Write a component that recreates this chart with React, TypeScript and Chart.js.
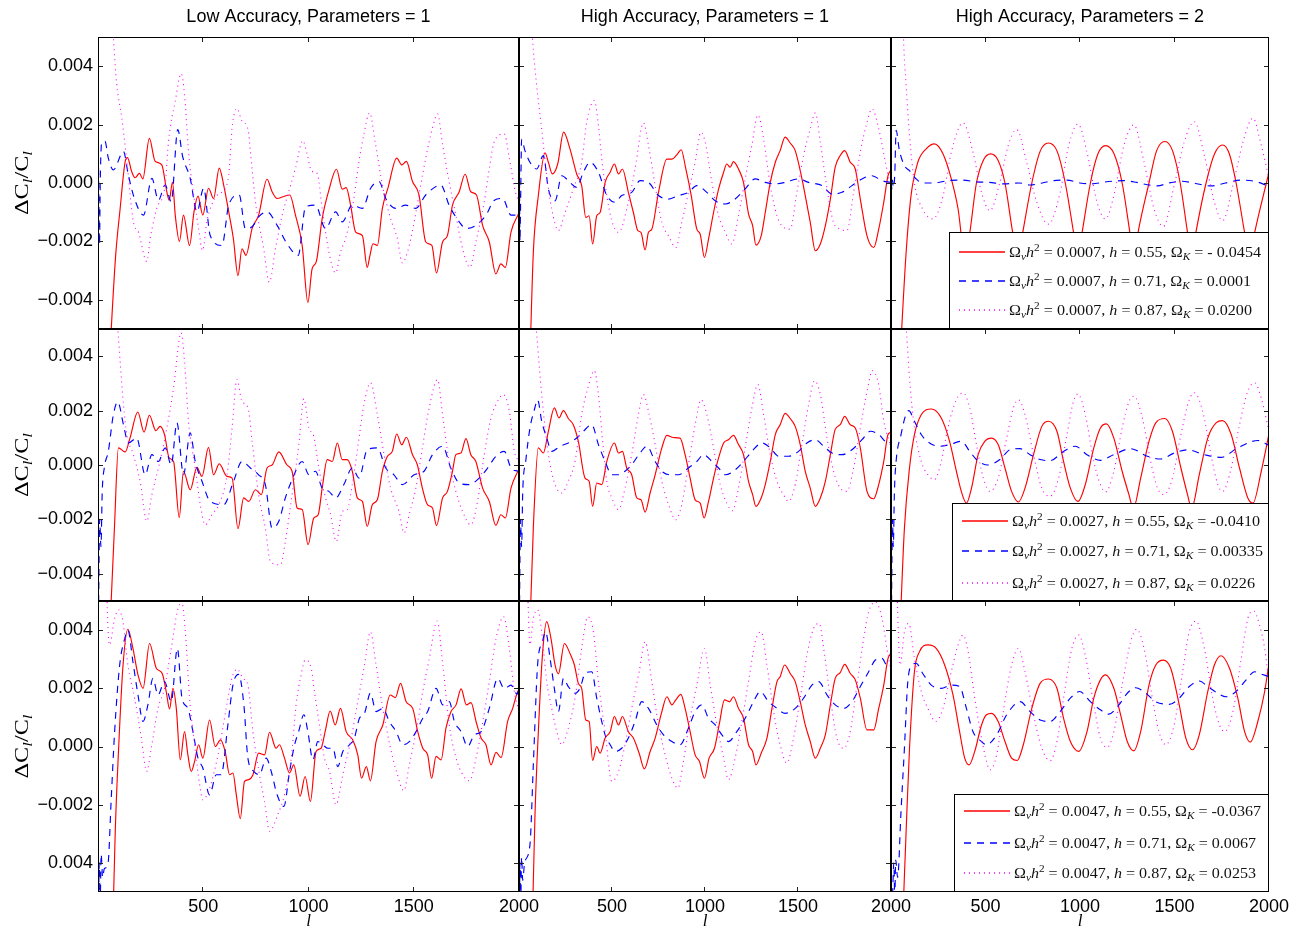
import React, { useEffect, useRef } from 'react';
import { Chart, registerables } from 'chart.js';

Chart.register(...registerables);

type P = [number, number][]; // [multipole l, ΔC_l/C_l in units of 1e-3]

// ---------------- tick labels / text ----------------
const yTickValues = [-0.004, -0.002, 0, 0.002, 0.004];
const yTickLabelsUpper = ['\u22120.004', '\u22120.002', '0.000', '0.002', '0.004'];
const yTickLabelsLower = ['0.004', '\u22120.002', '0.000', '0.002', '0.004'];
const xTickValues = [500, 1000, 1500, 2000];
const xTickLabels = ['500', '1000', '1500', '2000'];
const columnTitles = ['Low Accuracy, Parameters = 1', 'High Accuracy, Parameters = 1', 'High Accuracy, Parameters = 2'];
const legendNu = ['0.0007', '0.0027', '0.0047'];
const legendH = ['0.55', '0.71', '0.87'];
const legendOmegaK = [
  ['- 0.0454', '0.0001', '0.0200'],
  ['-0.0410', '0.00335', '0.0226'],
  ['-0.0367', '0.0067', '0.0253'],
];

// ---------------- row 1 : Ω_ν h² = 0.0007 ----------------
const r1LowRed: P = [[55,-6],[84,-2.47],[105,-0.89],[129,0.73],[140,0.87],[160,0.39],[176,0.18],[197,0.33],[213,0.14],[244,1.53],[271,0.75],[303,0.62],[327,-0.3],[338,-0.59],[354,0.02],[367,-1.1],[387,-2.0],[406,-1.1],[435,-2.14],[456,-0.99],[475,-0.45],[498,-1.1],[525,-0.18],[549,-0.53],[576,0.51],[597,-0.07],[621,-0.99],[643,-1.9],[665,-3.17],[684,-2.25],[703,-2.48],[732,-1.56],[763,-1.1],[803,0.13],[827,-0.3],[851,-0.53],[879,-0.47],[911,-0.41],[938,-1.1],[970,-2.14],[997,-4.09],[1017,-2.94],[1037,-2.69],[1065,-1.22],[1097,-0.24],[1133,0.47],[1160,-0.21],[1179,-0.16],[1200,-0.76],[1224,-1.68],[1256,-1.8],[1279,-2.89],[1292,-2.48],[1306,-2.08],[1327,-2.14],[1351,-0.87],[1379,-0.13],[1419,0.85],[1443,0.62],[1465,0.74],[1494,0.05],[1525,-0.41],[1557,-2.02],[1586,-2.14],[1608,-3.08],[1637,-2.02],[1660,-1.8],[1684,-0.76],[1716,-0.3],[1744,0.3],[1771,-0.3],[1798,-0.41],[1827,-1.45],[1859,-2.02],[1890,-3.11],[1914,-2.77],[1935,-2.89],[1962,-1.68],[1998,-1.05]];
const r1LowBlue: P = [[1,1.4],[4,-0.5],[7,-2.1],[11,0.2],[18,1.4],[33,1.43],[49,0.85],[73,0.45],[121,1.08],[144,0.28],[173,-0.53],[216,-1.1],[256,0.16],[287,-0.59],[319,-0.07],[348,-0.64],[379,1.83],[402,0.91],[438,0.16],[470,-0.99],[502,-0.18],[533,-1.8],[589,-2.14],[621,-0.76],[671,-0.41],[700,-1.56],[732,-1.5],[763,-1.16],[803,-0.99],[851,-1.45],[898,-2.08],[951,-2.48],[986,-0.82],[1033,-0.76],[1081,-1.56],[1129,-0.99],[1160,-1.33],[1208,-0.76],[1256,-0.87],[1295,-0.18],[1335,0.05],[1367,-0.53],[1414,-0.87],[1462,-0.76],[1510,-0.87],[1557,-0.41],[1629,-0.07],[1668,-0.76],[1716,-1.33],[1748,-1.56],[1795,-1.45],[1843,-1.1],[1883,-0.59],[1922,-0.53],[1962,-1.1],[1994,-1.1]];
const r1LowMag: P = [[50,8],[73,5.0],[89,3.38],[113,2.23],[137,0.74],[168,-1.33],[192,-1.68],[232,-2.69],[248,-1.9],[279,-0.87],[319,-0.07],[335,1.43],[367,2.8],[395,3.75],[411,3.03],[430,1.08],[459,-0.64],[478,-1.56],[497,-2.31],[517,-1.33],[557,-0.5],[589,-0.3],[621,0.28],[637,1.89],[660,2.55],[684,2.12],[713,1.83],[724,1.08],[748,-0.64],[787,-2.25],[814,-3.4],[843,-2.25],[875,-1.1],[906,-0.3],[938,0.5],[973,1.45],[994,0.97],[1014,0.41],[1041,0.33],[1065,-0.87],[1097,-2.37],[1129,-3.08],[1152,-2.37],[1176,-1.9],[1208,-0.87],[1240,0.74],[1263,1.66],[1290,2.4],[1319,1.31],[1351,-0.07],[1390,-1.22],[1422,-1.9],[1446,-2.74],[1470,-2.37],[1502,-1.33],[1533,-0.07],[1557,0.85],[1589,1.89],[1613,2.37],[1637,1.31],[1668,0.05],[1700,-1.1],[1732,-2.25],[1767,-2.89],[1795,-2.02],[1835,-0.64],[1859,0.5],[1883,1.43],[1930,1.68],[1954,0.85],[1986,-0.4],[2000,-0.6]];

const r1HighP1Red: P = [[59,-6],[77,-2.38],[104,-0.43],[140,1.03],[158,0.71],[179,0.31],[208,0.65],[240,1.74],[274,1.17],[310,0.31],[337,-0.09],[359,-1.18],[377,-1.12],[396,-2.09],[418,-1.12],[436,-1.01],[463,0.02],[490,0.37],[513,0.65],[535,0.31],[556,0.48],[588,-0.32],[615,-1.01],[639,-1.63],[656,-1.69],[678,-2.29],[696,-1.69],[714,-1.58],[750,-0.32],[795,0.82],[822,0.82],[848,0.96],[872,1.14],[897,0.48],[926,-0.43],[956,-1.58],[974,-1.75],[997,-2.55],[1019,-1.92],[1046,-1.01],[1073,-0.21],[1100,0.37],[1117,0.65],[1135,0.54],[1153,0.73],[1180,0.48],[1207,0.02],[1234,-1.06],[1256,-1.46],[1274,-2.13],[1302,-1.81],[1324,-1.01],[1351,0.02],[1378,0.71],[1404,1.11],[1431,1.57],[1458,1.37],[1485,1.11],[1512,0.42],[1539,-0.43],[1566,-1.35],[1593,-2.32],[1620,-2.09],[1647,-1.46],[1674,-0.55],[1700,0.54],[1727,0.94],[1751,1.11],[1781,0.71],[1808,0.48],[1835,-0.55],[1871,-1.81],[1907,-2.21],[1934,-1.58],[1961,-0.66],[1984,0.25],[2000,0.45]];
const r1HighP1Blue: P = [[2,1.4],[5,-2.0],[9,-0.5],[14,1.5],[32,1.11],[59,0.71],[95,0.48],[131,0.94],[158,-0.21],[194,-0.61],[230,0.25],[274,0.02],[310,-0.15],[346,0.37],[382,0.71],[427,0.37],[472,-0.43],[517,-0.66],[552,-0.43],[606,-0.32],[651,0.08],[696,0.02],[750,-0.43],[804,-0.55],[857,-0.43],[911,-0.32],[956,-0.09],[1010,-0.32],[1055,-0.61],[1109,-0.72],[1162,-0.55],[1216,-0.2],[1270,0.14],[1324,0.02],[1378,-0.03],[1431,0.02],[1503,0.14],[1557,0.02],[1629,-0.09],[1683,-0.38],[1736,-0.32],[1790,-0.09],[1844,0.14],[1898,0.25],[1952,0.08],[1996,0.02]];
const r1HighP1Mag: P = [[55,7],[72,5.0],[95,3.34],[122,1.85],[149,0.25],[176,-0.89],[212,-1.63],[248,-1.01],[292,-0.2],[337,0.71],[364,2.08],[405,2.82],[427,1.97],[445,0.82],[472,-0.43],[499,-1.29],[535,-1.69],[588,-0.66],[624,0.48],[669,2.06],[696,1.29],[732,-0.09],[768,-1.35],[804,-1.81],[843,-2.21],[875,-1.35],[911,-0.32],[947,0.71],[978,1.74],[1001,1.4],[1037,0.02],[1073,-1.12],[1109,-1.69],[1144,-2.09],[1180,-1.12],[1216,0.14],[1252,1.29],[1284,2.33],[1315,1.51],[1351,-0.09],[1387,-1.12],[1413,-1.46],[1458,-1.58],[1494,-0.32],[1530,0.94],[1566,1.86],[1593,2.4],[1620,1.4],[1656,-0.2],[1691,-1.35],[1727,-1.58],[1763,-1.63],[1799,-0.32],[1835,1.06],[1871,2.08],[1898,2.54],[1934,1.86],[1970,0.71],[1996,-0.09]];

const r1HighP2Red: P = [[48,-6],[80,-2.38],[106,-0.43],[142,0.71],[186,1.17],[230,1.34],[275,1.0],[319,0.14],[355,-0.89],[392,-2.6],[417,-1.7],[452,0],[490,0.8],[527,1.0],[565,0.8],[603,0],[644,-1.7],[672,-2.6],[697,-1.7],[745,0],[790,1.1],[833,1.37],[878,1.1],[922,0],[966,-1.7],[988,-2.6],[1011,-1.7],[1055,0],[1095,1.0],[1135,1.28],[1180,1.0],[1223,0],[1264,-1.7],[1285,-2.6],[1307,-1.7],[1365,0],[1405,1.1],[1449,1.42],[1490,1.1],[1530,0],[1569,-1.7],[1590,-2.6],[1613,-1.7],[1667,0],[1712,1.0],[1755,1.3],[1790,1.0],[1826,0],[1871,-1.7],[1897,-2.6],[1924,-1.7],[2000,0.37]];
const r1HighP2Blue: P = [[2,0],[4,-0.2],[8,0.1],[12,-0.15],[20,0.3],[27,1.8],[44,1.13],[71,0.6],[98,0.42],[133,0.14],[168,0],[230,0.0],[300,0.08],[381,0.1],[450,0.04],[520,0.02],[600,-0.03],[680,0.0],[736,-0.07],[800,0.0],[860,0.08],[931,0.1],[1000,0.0],[1060,-0.03],[1150,0.05],[1230,0.08],[1300,0.02],[1350,-0.05],[1410,-0.1],[1470,0.0],[1540,0.06],[1600,0.0],[1693,-0.1],[1770,0.0],[1853,0.1],[1930,0.05],[1995,-0.1]];
const r1HighP2Mag: P = [[55,8],[66,5.0],[80,3.34],[98,1.62],[124,0],[168,-0.9],[222,-1.23],[275,-0.46],[319,1.05],[381,2.06],[434,1.05],[479,-0.32],[523,-0.95],[576,0.02],[620,1.28],[665,1.83],[718,0.71],[771,-0.66],[833,-1.41],[895,-0.32],[940,1.28],[989,2.02],[1037,1.05],[1090,-0.66],[1135,-1.23],[1179,-0.43],[1232,1.28],[1285,1.99],[1339,0.71],[1392,-0.89],[1441,-1.49],[1498,-0.09],[1551,1.4],[1605,2.1],[1658,0.94],[1711,-0.66],[1755,-1.29],[1809,-0.09],[1862,1.4],[1915,2.22],[1959,1.29],[2000,0.14]];

// ---------------- row 2 : Ω_ν h² = 0.0027 ----------------
const r2LowRed: P = [[57,-6],[78,-2.32],[97,0.63],[129,0.48],[152,0.99],[189,1.95],[219,1.21],[244,1.83],[275,1.26],[295,1.42],[316,1.12],[338,0.26],[359,0.13],[386,-1.93],[406,-0.23],[438,-0.91],[470,-0.09],[494,-0.42],[525,0.65],[549,-0.36],[576,0.04],[613,-0.42],[637,-0.48],[665,-2.34],[692,-1.21],[716,-1.34],[748,-0.91],[776,-1.09],[803,-0.11],[827,0],[859,0.48],[898,0],[922,-0.23],[946,-1.58],[970,-1.64],[998,-2.93],[1025,-1.95],[1046,-1.83],[1065,-0.85],[1089,0.2],[1113,0.13],[1137,0.81],[1160,0.2],[1184,0.2],[1208,-0.23],[1232,-1.21],[1256,-1.34],[1279,-2.26],[1303,-1.46],[1327,-1.28],[1351,-0.23],[1375,0.32],[1398,0.5],[1419,1.14],[1443,0.74],[1465,1.02],[1494,0.38],[1517,0.01],[1541,-0.85],[1565,-1.46],[1589,-1.58],[1608,-2.23],[1637,-1.21],[1660,-0.97],[1684,-0.23],[1700,0.38],[1724,0.44],[1748,0.97],[1771,0.38],[1795,0.13],[1827,-0.85],[1859,-1.34],[1890,-2.22],[1914,-1.83],[1935,-1.95],[1962,-0.85],[1998,-0.17]];
const r2LowBlue: P = [[2,-6],[5,-3.5],[8,-2.0],[14,-3.0],[20,-1.0],[30,-0.1],[49,0.5],[73,1.85],[94,2.32],[121,1.48],[144,0.81],[184,0.99],[224,-0.36],[256,0.38],[287,0.13],[319,0.63],[348,0.01],[375,1.55],[406,-0.36],[438,1.18],[462,0.13],[494,-0.6],[533,-1.34],[597,-1.46],[644,-0.6],[684,0.13],[724,-0.11],[763,-0.36],[795,-0.72],[827,-2.32],[859,-2.07],[890,-1.21],[922,-0.54],[970,0.13],[1002,-0.36],[1033,-0.23],[1065,-0.85],[1097,-0.97],[1129,-1.21],[1168,-0.72],[1208,-0.11],[1240,-0.48],[1279,0.56],[1327,0.63],[1367,-0.11],[1406,-0.36],[1446,-0.72],[1502,-0.36],[1549,-0.23],[1589,0.38],[1637,0.69],[1676,-0.11],[1716,-0.66],[1763,-0.72],[1811,-0.48],[1851,-0.11],[1890,0.32],[1930,0.5],[1962,-0.11],[1994,-0.23]];
const r2LowMag: P = [[80,6],[94,5.0],[105,3.82],[121,2.22],[137,1.12],[168,0.38],[200,-0.6],[232,-2.07],[256,-1.09],[287,-0.11],[327,1.36],[359,2.83],[395,4.86],[411,3.82],[430,1.6],[462,-0.11],[486,-1.46],[510,-2.2],[541,-1.83],[581,-1.34],[613,-0.36],[637,1.36],[660,3.14],[684,2.34],[713,2.09],[732,0.87],[763,-1.09],[795,-2.32],[819,-3.55],[867,-3.67],[890,-2.81],[922,-1.09],[954,0.75],[978,2.44],[1002,1.36],[1025,1.06],[1049,-0.11],[1081,-1.21],[1105,-1.83],[1132,-2.81],[1160,-1.71],[1184,-1.64],[1208,-0.72],[1240,0.99],[1263,2.21],[1295,3.02],[1327,1.85],[1359,0.38],[1390,-0.85],[1430,-1.71],[1454,-2.5],[1478,-1.83],[1510,-0.85],[1541,0.63],[1573,2.09],[1613,3.14],[1637,1.85],[1668,0.13],[1700,-0.97],[1732,-1.71],[1771,-2.2],[1803,-1.34],[1835,0.38],[1867,1.73],[1890,2.21],[1925,2.59],[1954,1.98],[1978,0.5],[2000,0.13]];

const r2HighP1Red: P = [[59,-6],[77,-2.32],[104,0.63],[131,0.44],[158,1.24],[190,2.1],[215,1.73],[239,2.0],[265,1.71],[292,1.48],[319,0.87],[355,-0.48],[377,-0.6],[396,-1.52],[418,-0.66],[445,-0.72],[472,0.13],[513,0.81],[535,0.44],[556,0.5],[579,-0.11],[606,-0.36],[633,-1.21],[656,-1.28],[678,-1.73],[705,-1.03],[732,-0.36],[768,0.63],[795,1.09],[830,1.01],[866,0.99],[893,0.38],[920,-0.48],[947,-1.28],[974,-1.4],[995,-1.95],[1019,-1.34],[1046,-0.48],[1073,0.26],[1100,0.81],[1126,0.93],[1153,1.09],[1180,0.75],[1207,0.38],[1234,-0.6],[1256,-1.09],[1274,-1.52],[1302,-1.21],[1324,-0.72],[1351,0.13],[1378,1.12],[1404,1.48],[1431,1.9],[1458,1.71],[1485,1.42],[1512,0.75],[1539,-0.23],[1566,-0.85],[1593,-1.52],[1620,-1.21],[1647,-0.6],[1674,0.38],[1700,1.31],[1727,1.48],[1751,1.79],[1781,1.48],[1808,1.36],[1835,0.63],[1871,-0.97],[1907,-1.24],[1934,-0.72],[1961,0.13],[1984,1.12],[2000,1.2]];
const r2HighP1Blue: P = [[2,-6],[5,-3.5],[8,-2.0],[14,-3.0],[20,-1.0],[36,0.13],[59,1.36],[83,2.04],[100,2.4],[122,1.61],[149,1.0],[176,0.5],[221,0.69],[265,0.81],[310,0.99],[346,1.24],[391,1.48],[427,0.75],[463,0.13],[499,-0.36],[535,-0.36],[570,-0.23],[606,0.01],[651,0.44],[687,0.69],[732,0.13],[768,-0.23],[813,-0.36],[857,-0.36],[911,-0.11],[956,0.13],[992,0.38],[1037,0.13],[1073,-0.11],[1109,-0.36],[1153,-0.23],[1207,0.13],[1252,0.5],[1306,0.81],[1351,0.63],[1396,0.32],[1449,0.32],[1503,0.5],[1548,0.81],[1593,0.93],[1638,0.69],[1683,0.44],[1736,0.38],[1790,0.56],[1844,0.93],[1889,1.24],[1934,1.12],[1978,0.81],[2000,0.75]];
const r2HighP1Mag: P = [[80,6],[95,4.8],[122,2.59],[158,0.38],[194,-0.72],[230,-1.03],[265,-0.6],[301,0.13],[337,1.85],[373,2.9],[405,3.47],[427,2.59],[448,0.99],[472,-0.6],[499,-1.21],[535,-1.64],[570,-0.85],[606,0.38],[642,1.85],[669,2.59],[696,1.98],[732,0.75],[768,-0.6],[804,-1.46],[843,-2.01],[875,-1.46],[911,0.01],[947,1.48],[979,2.4],[1010,1.85],[1046,0.63],[1082,-0.72],[1117,-1.4],[1148,-1.68],[1180,-0.85],[1216,0.63],[1252,2.09],[1284,2.96],[1315,1.85],[1351,0.38],[1387,-0.6],[1422,-1.09],[1449,-1.34],[1485,-0.72],[1521,0.75],[1557,2.22],[1589,3.1],[1620,2.59],[1656,0.99],[1691,-0.23],[1727,-0.85],[1763,-0.97],[1799,-0.11],[1835,1.36],[1871,2.71],[1901,3.47],[1934,2.94],[1961,1.61],[1996,0.75]];

const r2HighP2Red: P = [[48,-6],[71,-2.32],[98,-0.1],[124,1.12],[160,1.85],[213,2.06],[266,1.73],[310,0.87],[346,-0.23],[372,-0.97],[399,-1.4],[426,-0.85],[461,0.38],[496,0.87],[532,0.99],[567,0.75],[603,-0.11],[638,-0.97],[674,-1.36],[709,-0.85],[754,0.38],[798,1.42],[833,1.61],[878,1.24],[913,0.13],[949,-0.85],[989,-1.34],[1028,-0.72],[1073,0.63],[1108,1.36],[1140,1.51],[1179,0.99],[1223,-0.23],[1259,-1.09],[1282,-1.6],[1321,-0.48],[1365,0.87],[1401,1.55],[1449,1.71],[1489,1.24],[1534,-0.11],[1569,-1.09],[1590,-1.6],[1631,-0.36],[1676,0.99],[1720,1.55],[1755,1.63],[1800,1.12],[1844,-0.11],[1888,-1.21],[1915,-1.4],[1959,-0.23],[2000,1.14]];
const r2HighP2Blue: P = [[2,-6],[5,-3.5],[8,-2.0],[12,-3.0],[18,-1.0],[27,0.13],[53,1.12],[76,1.79],[94,2.0],[124,1.61],[160,1.12],[204,0.81],[257,0.69],[310,0.75],[372,0.87],[417,0.5],[452,0.2],[514,0.0],[576,0.2],[629,0.56],[683,0.6],[736,0.38],[789,0.2],[842,0.16],[913,0.5],[975,0.69],[1037,0.38],[1108,0.17],[1179,0.38],[1268,0.6],[1356,0.32],[1427,0.22],[1498,0.44],[1569,0.56],[1658,0.38],[1746,0.28],[1835,0.63],[1941,0.9],[2000,0.72]];
const r2HighP2Mag: P = [[70,6],[83,4.8],[98,3.2],[124,1.37],[160,0.13],[195,-0.36],[230,-0.54],[266,0.13],[301,1.36],[346,2.4],[381,2.65],[417,2.09],[452,0.75],[488,-0.48],[523,-0.97],[567,-0.48],[612,0.99],[647,2.09],[674,2.4],[709,1.85],[754,0.38],[798,-0.85],[842,-1.15],[887,-0.48],[931,1.12],[966,2.35],[989,2.61],[1028,1.85],[1073,0.13],[1108,-0.72],[1135,-0.99],[1179,-0.23],[1223,1.36],[1259,2.33],[1285,2.53],[1330,1.73],[1374,0.13],[1410,-0.85],[1445,-1.09],[1489,-0.48],[1534,1.12],[1578,2.4],[1605,2.65],[1649,1.98],[1693,0.38],[1729,-0.72],[1755,-0.97],[1800,-0.11],[1844,1.48],[1888,2.71],[1924,3.02],[1959,2.46],[2000,1.24]];

// ---------------- row 3 : Ω_ν h² = 0.0047 ----------------
const r3LowRed: P = [[71,-6],[82,-2.91],[98,-0.06],[119,2.8],[142,4.03],[166,3.37],[190,2.46],[214,2.0],[245,3.54],[277,2.69],[305,2.51],[324,1.89],[340,1.29],[356,2.0],[372,1.31],[391,-0.46],[411,0.51],[427,-0.29],[443,-0.86],[459,-0.51],[478,0.06],[498,-0.4],[530,0.91],[557,0],[582,0.23],[604,-0.17],[625,-0.97],[641,-0.91],[657,-1.66],[676,-2.48],[696,-1.2],[715,-1.14],[736,-0.97],[763,-0.23],[791,-0.29],[815,0.49],[846,-0.06],[862,0.06],[886,-0.4],[910,-0.91],[930,-0.63],[960,-1.71],[984,-1.03],[1009,-1.89],[1036,-0.17],[1060,-0.06],[1079,0.51],[1103,1.22],[1127,0.74],[1152,1.31],[1179,0.51],[1210,0.23],[1234,-0.29],[1252,-1.09],[1275,-0.69],[1294,-1.18],[1321,0.17],[1353,0.74],[1388,1.77],[1413,1.68],[1437,2.17],[1464,1.54],[1495,1.31],[1519,0.51],[1543,-0.06],[1566,-0.29],[1585,-1.09],[1606,-0.34],[1630,-0.46],[1653,0.63],[1677,1.2],[1701,1.43],[1725,1.98],[1750,1.43],[1772,1.51],[1796,0.86],[1820,0.29],[1843,0.06],[1867,-0.63],[1891,-0.2],[1915,-0.38],[1946,0.86],[1970,1.31],[1991,1.83],[2000,1.95]];
const r3LowBlue: P = [[2,-6],[6,-4.0],[10,-5.5],[15,-3.7],[22,-4.5],[30,-4.2],[47,-4.06],[63,-1.77],[79,0.51],[103,2.8],[127,3.71],[142,4.0],[166,2.91],[190,1.77],[214,0.86],[237,1.43],[261,2.34],[285,1.77],[316,2.23],[348,1.54],[377,3.37],[399,1.66],[427,1.31],[451,0.51],[475,-0.4],[498,-0.74],[530,-1.66],[562,-0.97],[585,-0.97],[617,0.74],[641,2.11],[668,2.48],[693,1.43],[712,-0.4],[741,-0.86],[767,-0.97],[799,-0.4],[823,-0.86],[851,-1.66],[883,-2.06],[910,-0.86],[934,0.06],[953,0.51],[978,1.09],[997,0.51],[1021,-0.46],[1044,0.17],[1068,0.06],[1092,-0.06],[1116,-0.06],[1139,-0.69],[1163,-0.17],[1195,0.06],[1218,0.29],[1242,0.97],[1266,1.14],[1294,1.83],[1321,1.2],[1353,1.31],[1384,0.86],[1416,0.51],[1448,0.06],[1479,0.17],[1511,0.51],[1543,0.97],[1566,1.2],[1606,2.0],[1638,1.43],[1669,1.54],[1693,0.86],[1725,0.51],[1756,0],[1788,0.4],[1820,0.51],[1859,1.31],[1899,2.34],[1930,1.99],[1962,2.11],[1991,1.8],[2000,2.0]];
const r3LowMag: P = [[40,6],[44,4.7],[55,3.49],[79,4.4],[98,4.7],[119,4.26],[142,2.8],[174,1.66],[206,0.29],[231,-0.86],[253,-0.06],[285,1.31],[316,2.0],[348,3.37],[380,4.74],[399,4.91],[415,3.94],[435,1.66],[459,0.06],[483,-1.31],[498,-1.83],[530,-1.43],[570,-0.29],[609,1.31],[636,2.34],[661,2.66],[689,2.34],[712,2.11],[736,0.51],[767,-0.97],[791,-1.89],[815,-2.91],[854,-2.34],[886,-1.66],[918,-0.4],[941,1.43],[965,2.46],[984,2.97],[1013,2.69],[1028,1.89],[1052,0.74],[1076,-0.4],[1100,-0.86],[1131,-2.0],[1163,-0.97],[1203,0.29],[1234,1.54],[1266,2.8],[1294,3.94],[1321,2.8],[1353,1.31],[1386,0.06],[1418,-0.86],[1453,-1.52],[1479,-0.63],[1511,0.51],[1543,1.89],[1574,3.03],[1611,4.31],[1638,2.8],[1669,0.74],[1701,-0.4],[1733,-0.97],[1764,-1.18],[1796,-0.4],[1828,0.86],[1859,2.23],[1891,3.71],[1927,4.46],[1954,3.37],[1978,1.89],[2000,1.2]];

const r3HighP1Red: P = [[72,-6],[86,-2.34],[104,0.51],[126,3.14],[149,4.29],[172,3.71],[194,2.8],[212,2.5],[244,3.54],[274,3.2],[298,2.8],[319,2.17],[337,2.0],[359,0.91],[377,0.86],[396,-0.48],[418,0],[436,-0.23],[463,0.29],[490,0.51],[513,1.03],[535,0.74],[556,1.03],[588,0.51],[615,0.29],[646,-0.23],[674,-0.77],[705,-0.17],[732,0.29],[768,1.2],[795,1.71],[822,1.43],[843,1.6],[870,1.79],[893,1.31],[920,0.51],[947,-0.29],[970,-0.51],[997,-1.09],[1022,-0.4],[1051,-0.06],[1076,0.74],[1105,1.6],[1132,1.54],[1153,1.71],[1180,1.31],[1207,0.97],[1234,0.06],[1256,-0.17],[1274,-0.63],[1302,-0.23],[1333,0.29],[1360,1.31],[1387,2.23],[1404,2.4],[1428,2.8],[1458,2.51],[1485,2.23],[1512,1.54],[1539,0.74],[1566,0.17],[1593,-0.4],[1620,-0.06],[1647,0.4],[1674,1.43],[1700,2.34],[1727,2.54],[1751,2.82],[1781,2.51],[1808,2.29],[1835,1.66],[1871,0.57],[1907,0.57],[1934,1.31],[1961,2.11],[1984,3.03],[2000,3.2]];
const r3HighP1Blue: P = [[2,-6],[5,-4.0],[9,-5.5],[14,-3.8],[20,-4.6],[30,-4.0],[59,-3.37],[77,-0.63],[100,2.8],[126,3.6],[143,3.94],[167,3.03],[190,2.0],[212,1.2],[239,2.34],[265,2.06],[301,1.83],[328,2.0],[355,2.51],[391,2.57],[418,1.66],[441,0.97],[463,0.4],[490,0.06],[517,-0.17],[552,-0.06],[588,0.29],[624,0.86],[660,1.54],[696,1.31],[741,0.74],[777,0.4],[822,0.17],[866,0.06],[911,0.63],[947,1.2],[983,1.43],[1019,0.97],[1055,0.74],[1091,0.4],[1126,0.17],[1171,0.51],[1216,0.97],[1261,1.54],[1297,1.89],[1342,1.54],[1387,1.31],[1431,1.14],[1485,1.31],[1530,1.66],[1575,2.11],[1611,2.23],[1656,1.77],[1700,1.43],[1745,1.31],[1790,1.54],[1835,2.06],[1880,2.57],[1916,2.97],[1952,3.03],[1978,2.8],[2000,2.9]];
const r3HighP1Mag: P = [[44,6],[50,4.7],[59,3.5],[77,4.4],[100,4.7],[122,3.94],[149,2.23],[176,1.31],[203,0.51],[230,0.06],[265,0.63],[301,1.66],[337,3.37],[370,4.46],[400,3.94],[427,2.23],[463,0.51],[499,-1.2],[535,-0.86],[570,0.06],[606,1.31],[646,2.57],[678,3.6],[714,2.23],[750,0.74],[786,-0.29],[822,-1.09],[854,-1.43],[884,-0.51],[920,0.97],[956,2.11],[997,3.37],[1028,2.11],[1064,0.74],[1100,-0.4],[1126,-1.14],[1162,-0.4],[1198,0.86],[1234,2.23],[1270,3.6],[1302,3.94],[1333,2.8],[1369,1.2],[1404,0.06],[1440,-0.57],[1476,0.29],[1512,1.66],[1548,3.14],[1584,4.06],[1614,4.23],[1638,3.37],[1674,1.66],[1709,0.29],[1745,-0.06],[1781,0.51],[1817,2.11],[1853,3.71],[1880,4.63],[1916,4.97],[1952,4.4],[1978,3.37],[2000,2.57]];

const r3HighP2Red: P = [[62,-6],[80,-2.91],[98,-0.06],[124,2.57],[151,3.26],[195,3.49],[239,3.37],[284,2.8],[328,1.77],[363,0.51],[390,-0.4],[413,-0.63],[443,-0.17],[479,0.74],[505,1.09],[532,1.14],[567,0.86],[603,0.17],[638,-0.4],[668,-0.48],[700,0.06],[745,1.31],[789,2.17],[833,2.32],[878,2.0],[913,0.97],[949,0.17],[993,-0.17],[1037,0.51],[1073,1.66],[1108,2.29],[1135,2.46],[1179,2.0],[1215,1.09],[1250,0.17],[1285,-0.15],[1321,0.51],[1365,2.11],[1401,2.8],[1441,2.97],[1480,2.69],[1525,1.43],[1560,0.29],[1596,-0.11],[1631,0.4],[1676,1.89],[1711,2.8],[1746,3.12],[1791,2.69],[1835,1.66],[1871,0.51],[1901,0.15],[1941,0.86],[1977,1.89],[2000,2.86]];
const r3HighP2Blue: P = [[2,-6],[9,-5.0],[15,-4.0],[20,-5.2],[25,-3.9],[35,-4.5],[53,-2.23],[71,-0.06],[89,2.23],[112,2.8],[133,2.86],[168,2.51],[213,2.11],[266,2.0],[319,2.11],[363,2.06],[399,1.31],[434,0.51],[479,0.17],[505,0.06],[559,0.4],[612,1.09],[683,1.54],[736,1.2],[789,0.91],[842,0.86],[895,1.2],[949,1.66],[998,1.89],[1055,1.54],[1108,1.26],[1152,1.11],[1206,1.43],[1250,1.83],[1294,2.02],[1348,1.83],[1401,1.54],[1472,1.45],[1525,1.66],[1578,2.06],[1631,2.25],[1676,2.06],[1729,1.83],[1773,1.71],[1826,1.89],[1879,2.29],[1924,2.57],[1950,2.51],[2000,2.4]];
const r3HighP2Mag: P = [[30,6],[35,4.7],[48,2.8],[71,3.94],[94,4.23],[124,3.03],[160,1.89],[195,1.31],[236,0.86],[275,1.31],[319,2.57],[355,3.49],[381,3.83],[408,3.26],[443,1.66],[479,0.29],[505,-0.51],[523,-0.8],[559,-0.29],[594,1.2],[638,2.8],[674,3.37],[709,2.57],[754,1.09],[798,-0.06],[842,-0.49],[878,0.17],[913,1.66],[957,3.37],[993,3.83],[1028,3.14],[1073,1.43],[1108,0.29],[1144,-0.03],[1179,0.51],[1223,2.11],[1268,3.6],[1300,4.03],[1339,3.37],[1383,1.66],[1418,0.51],[1454,0.06],[1498,0.74],[1543,2.57],[1578,3.94],[1613,4.31],[1658,3.37],[1702,1.66],[1738,0.74],[1764,0.51],[1809,1.2],[1853,3.03],[1888,4.4],[1920,4.65],[1950,4.17],[1977,3.37],[2000,2.2]];

// ---------------- layout ----------------
const W = 1297, H = 926;
const colLeft = [98, 519, 891];
const colRight = [519, 891, 1269];
const rowTop = [37, 329, 601];
const rowBottom = [329, 601, 892];
const legendBox = [{ x: 949, y: 232 }, { x: 952, y: 503 }, { x: 954, y: 794 }];
const legendDy = [[20, 49, 78], [18, 48, 80], [17, 49, 79]];
const legendTextW = [[252, 242, 243], [248, 251, 243], [247, 242, 242]];

const SANS = "'Liberation Sans', Arial, Helvetica, sans-serif";
const SERIF = "'Liberation Serif', 'Times New Roman', serif";

const RED = '#ff0000', BLUE = '#0000ff', MAG = '#ff00ff';
const BLUE_DASH = [7, 6];
const MAG_DASH = [1, 4];

type Seg = { t: string; it?: boolean; sub?: boolean; sup?: boolean };

function drawRich(ctx: CanvasRenderingContext2D, segs: Seg[], x: number, y: number, size: number, targetW: number | null, align: 'left' | 'center') {
  const fontFor = (s: Seg) => `${s.it ? 'italic ' : ''}${s.sub || s.sup ? size * 0.7 : size}px ${SERIF}`;
  let total = 0;
  const ws = segs.map((s) => {
    ctx.font = fontFor(s);
    const w = ctx.measureText(s.t).width;
    total += w;
    return w;
  });
  const sx = targetW ? targetW / total : 1;
  ctx.save();
  ctx.translate(x, y);
  ctx.scale(sx, 1);
  ctx.textAlign = 'left';
  ctx.textBaseline = 'alphabetic';
  let cx = align === 'center' ? -total / 2 : 0;
  segs.forEach((s, i) => {
    ctx.font = fontFor(s);
    const dy = s.sub ? size * 0.2 : s.sup ? -size * 0.4 : 0;
    ctx.fillText(s.t, cx, dy);
    cx += ws[i];
  });
  ctx.restore();
}

interface PanelCfg { row: number; col: number; red: P; blue: P; mag: P }

const panels: PanelCfg[] = [
  { row: 0, col: 0, red: r1LowRed, blue: r1LowBlue, mag: r1LowMag },
  { row: 0, col: 1, red: r1HighP1Red, blue: r1HighP1Blue, mag: r1HighP1Mag },
  { row: 0, col: 2, red: r1HighP2Red, blue: r1HighP2Blue, mag: r1HighP2Mag },
  { row: 1, col: 0, red: r2LowRed, blue: r2LowBlue, mag: r2LowMag },
  { row: 1, col: 1, red: r2HighP1Red, blue: r2HighP1Blue, mag: r2HighP1Mag },
  { row: 1, col: 2, red: r2HighP2Red, blue: r2HighP2Blue, mag: r2HighP2Mag },
  { row: 2, col: 0, red: r3LowRed, blue: r3LowBlue, mag: r3LowMag },
  { row: 2, col: 1, red: r3HighP1Red, blue: r3HighP1Blue, mag: r3HighP1Mag },
  { row: 2, col: 2, red: r3HighP2Red, blue: r3HighP2Blue, mag: r3HighP2Mag },
];

function makeConfig(p: PanelCfg): any {
  const L = colLeft[p.col], R = colRight[p.col], T = rowTop[p.row], B = rowBottom[p.row];
  const yW = p.col === 0 ? L : 0;
  const xH = p.row === 2 ? H - B : 0;
  const yLabels = p.row === 2 ? yTickLabelsLower : yTickLabelsUpper;
  const toData = (pts: P) => pts.map(([x, v]) => ({ x, y: v / 1000 }));
  const lineBase = { pointRadius: 0, borderWidth: 1.15, fill: false, cubicInterpolationMode: 'monotone' as const };

  const deco = {
    id: 'deco' + p.row + p.col,
    afterDraw(chart: any) {
      const ctx: CanvasRenderingContext2D = chart.ctx;
      const a = chart.chartArea;
      const xs = chart.scales.x, ys = chart.scales.y;
      ctx.save();
      ctx.setLineDash([]);
      // inward tick marks on all four sides
      ctx.strokeStyle = '#222';
      ctx.lineWidth = 1;
      ctx.beginPath();
      yTickValues.forEach((v) => {
        const py = Math.round(ys.getPixelForValue(v)) + 0.5;
        ctx.moveTo(a.left, py); ctx.lineTo(a.left + 5, py);
        ctx.moveTo(a.right - 5, py); ctx.lineTo(a.right, py);
      });
      xTickValues.forEach((v) => {
        const px = Math.round(xs.getPixelForValue(v)) - 0.5;
        ctx.moveTo(px, a.bottom); ctx.lineTo(px, a.bottom - 5);
        ctx.moveTo(px, a.top); ctx.lineTo(px, a.top + 5);
      });
      ctx.stroke();

      // legend (right column)
      if (p.col === 2) {
        const bx = legendBox[p.row].x, by = legendBox[p.row].y;
        ctx.fillStyle = '#ffffff';
        ctx.fillRect(bx, by, a.right - bx, a.bottom - by);
        ctx.strokeStyle = '#000';
        ctx.lineWidth = 1;
        ctx.strokeRect(bx + 0.5, by + 0.5, a.right - bx - 1, a.bottom - by - 1);
        const colors = [RED, BLUE, MAG];
        const dashes = [[] as number[], BLUE_DASH, MAG_DASH];
        for (let i = 0; i < 3; i++) {
          const cy = by + legendDy[p.row][i];
          ctx.save();
          ctx.strokeStyle = colors[i];
          ctx.lineWidth = i === 2 ? 1.3 : 1.6;
          ctx.setLineDash(dashes[i]);
          ctx.beginPath();
          ctx.moveTo(bx + 10, cy);
          ctx.lineTo(bx + 56, cy);
          ctx.stroke();
          ctx.restore();
          ctx.fillStyle = '#111';
          const segs: Seg[] = [
            { t: '\u03A9' }, { t: '\u03BD', it: true, sub: true }, { t: 'h', it: true }, { t: '2', sup: true },
            { t: ' = ' + legendNu[p.row] + ', ' }, { t: 'h', it: true }, { t: ' = ' + legendH[i] + ', ' },
            { t: '\u03A9' }, { t: 'K', it: true, sub: true }, { t: ' = ' + legendOmegaK[p.row][i] },
          ];
          drawRich(ctx, segs, bx + 60, cy + 5, 15.5, legendTextW[p.row][i], 'left');
        }
      }

      // frame
      ctx.setLineDash([]);
      ctx.strokeStyle = '#000';
      ctx.lineWidth = 1;
      ctx.strokeRect(a.left + 0.5, a.top + 0.5, a.right - a.left - 1, a.bottom - a.top - 1);

      // column titles
      if (p.row === 0) {
        ctx.fillStyle = '#000';
        ctx.font = `18px ${SANS}`;
        ctx.textAlign = 'center';
        ctx.textBaseline = 'alphabetic';
        ctx.fillText(columnTitles[p.col], (a.left + a.right) / 2, 22);
      }
      // y-axis label
      if (p.col === 0) {
        ctx.save();
        ctx.fillStyle = '#000';
        ctx.translate(28, ys.getPixelForValue(0));
        ctx.rotate(-Math.PI / 2);
        drawRich(ctx, [{ t: '\u0394C' }, { t: 'l', it: true, sub: true }, { t: '/C' }, { t: 'l', it: true, sub: true }], 0, 0, 19, 64, 'center');
        ctx.restore();
      }
      // x-axis label
      if (p.row === 2) {
        ctx.fillStyle = '#000';
        ctx.font = `italic 17px ${SERIF}`;
        ctx.textAlign = 'center';
        ctx.textBaseline = 'alphabetic';
        ctx.fillText('l', (a.left + a.right) / 2, 926);
      }
      ctx.restore();
    },
  };

  return {
    type: 'line',
    data: {
      datasets: [
        { ...lineBase, label: 'red', data: toData(p.red), borderColor: RED, order: 3 },
        { ...lineBase, label: 'blue', data: toData(p.blue), borderColor: BLUE, borderDash: BLUE_DASH, order: 2 },
        { ...lineBase, label: 'magenta', data: toData(p.mag), borderColor: MAG, borderDash: MAG_DASH, borderWidth: 1.1, order: 1 },
      ],
    },
    options: {
      responsive: false,
      animation: false,
      events: [],
      layout: { autoPadding: false, padding: { left: L - yW, top: T, right: W - R, bottom: H - B - xH } },
      plugins: { legend: { display: false }, title: { display: false }, tooltip: { enabled: false } },
      scales: {
        x: {
          type: 'linear',
          min: 0,
          max: 2000,
          grid: { display: false, drawTicks: false },
          border: { display: false },
          afterBuildTicks: (s: any) => { s.ticks = xTickValues.map((v) => ({ value: v })); },
          afterFit: (s: any) => { s.height = xH; },
          ticks: {
            display: p.row === 2,
            autoSkip: false,
            maxRotation: 0,
            padding: 4,
            color: '#000',
            font: { family: SANS, size: 18 },
            callback: (_v: any, i: number) => xTickLabels[i],
          },
        },
        y: {
          type: 'linear',
          min: -0.005,
          max: 0.005,
          grid: { display: false, drawTicks: false },
          border: { display: false },
          afterBuildTicks: (s: any) => { s.ticks = yTickValues.map((v) => ({ value: v })); },
          afterFit: (s: any) => { s.width = yW; },
          ticks: {
            display: p.col === 0,
            autoSkip: false,
            padding: 5,
            color: '#000',
            font: { family: SANS, size: 18 },
            callback: (_v: any, i: number) => yLabels[i],
          },
        },
      },
    },
    plugins: [deco],
  };
}

function Panel({ cfg }: { cfg: PanelCfg }) {
  const ref = useRef<HTMLCanvasElement>(null);
  useEffect(() => {
    if (!ref.current) return;
    const chart = new Chart(ref.current, makeConfig(cfg));
    return () => chart.destroy();
  }, [cfg]);
  return (
    <canvas
      ref={ref}
      width={W}
      height={H}
      style={{ position: 'absolute', left: 0, top: 0, width: W, height: H }}
    />
  );
}

export default function App() {
  return (
    <div style={{ position: 'absolute', left: 0, top: 0, width: W, height: H, background: '#fff', overflow: 'hidden' }}>
      {panels.map((p) => (
        <Panel key={`${p.row}-${p.col}`} cfg={p} />
      ))}
    </div>
  );
}
